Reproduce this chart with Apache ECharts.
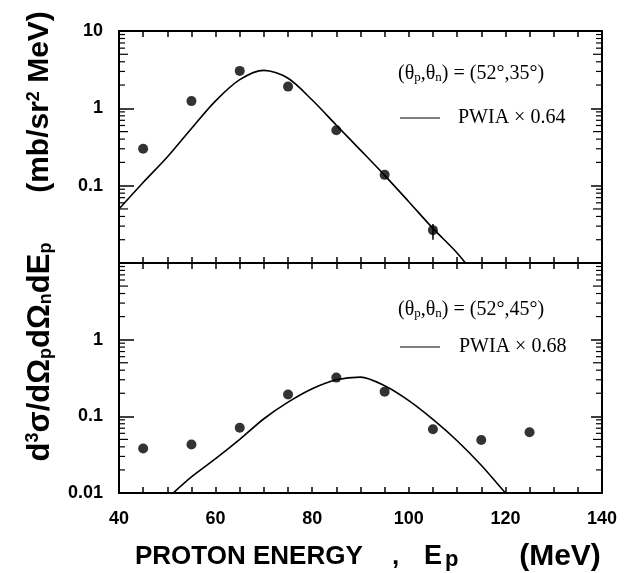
<!DOCTYPE html>
<html>
<head>
<meta charset="utf-8">
<script src="https://cdn.jsdelivr.net/npm/echarts@6/dist/echarts.min.js"></script>
<style>
  html, body { margin: 0; padding: 0; background: #fff; }
  #chart { width: 636px; height: 573px; }
</style>
</head>
<body>
<div id="chart"></div>
<script>
// measured points, upper panel (theta_n = 35 deg)
const topEnergy = [45, 55, 65, 75, 85, 95, 105];
const topValue = [0.30, 1.24, 3.05, 1.91, 0.52, 0.138, 0.0266];
const topErrors = [[105, 0.020, 0.032]];

// measured points, lower panel (theta_n = 45 deg)
const botEnergy = [45, 55, 65, 75, 85, 95, 105, 115, 125];
const botValue = [0.038, 0.043, 0.071, 0.193, 0.32, 0.21, 0.068, 0.049, 0.062];

// PWIA curves
const topCurveEnergy = [40, 45, 50, 55, 60, 65, 70, 75, 80, 85, 90, 95, 100, 105, 110, 115];
const topCurveValue = [0.05, 0.11, 0.235, 0.55, 1.25, 2.35, 3.1, 2.45, 1.28, 0.605, 0.288, 0.136, 0.062, 0.028, 0.0135, 0.0055];
const botCurveEnergy = [50, 55, 60, 65, 70, 75, 80, 85, 90, 95, 100, 105, 110, 115, 120, 125];
const botCurveValue = [0.0085, 0.0162, 0.028, 0.05, 0.093, 0.153, 0.229, 0.30, 0.325, 0.25, 0.16, 0.091, 0.048, 0.023, 0.010, 0.0045];

const xLabels = [40, 60, 80, 100, 120, 140];

const SANS = 'Liberation Sans, Arial, sans-serif';
const SERIF = 'Liberation Serif, Times New Roman, serif';

const chart = echarts.init(document.getElementById('chart'), null, { renderer: 'canvas' });

function zip(xs, ys) {
  return xs.map((x, i) => [x, ys[i]]);
}

function xAxisFor(gridIndex, position, showLabels) {
  return {
    type: 'value',
    gridIndex: gridIndex,
    position: position,
    min: 40,
    max: 140,
    interval: 5,
    axisLine: { show: true, onZero: false, lineStyle: { color: '#000', width: 2 } },
    axisTick: { show: true, inside: true, length: 6, lineStyle: { color: '#000', width: 1.5 } },
    splitLine: { show: false },
    axisLabel: {
      show: showLabels,
      margin: 17,
      color: '#000',
      fontFamily: SANS,
      fontWeight: 'bold',
      fontSize: 18,
      formatter: (v) => (xLabels.indexOf(v) >= 0 ? String(v) : '')
    }
  };
}

function yAxisFor(gridIndex, position, formatter) {
  return {
    type: 'log',
    logBase: 10,
    gridIndex: gridIndex,
    position: position,
    min: 0.01,
    max: 10,
    axisLine: { show: true, onZero: false, lineStyle: { color: '#000', width: 2 } },
    axisTick: { show: true, inside: true, length: position === 'left' ? 15 : 11, lineStyle: { color: '#000', width: 1.5 } },
    splitLine: { show: false },
    axisLabel: {
      show: !!formatter,
      margin: 16,
      color: '#000',
      fontFamily: SANS,
      fontWeight: 'bold',
      fontSize: 18,
      formatter: formatter || undefined
    }
  };
}

// log minor ticks on both vertical edges of a panel
function minorTicks(params, api) {
  const children = [];
  for (let d = -2; d <= 0; d++) {
    for (let m = 2; m <= 9; m++) {
      const v = m * Math.pow(10, d);
      const l = api.coord([40, v]);
      const r = api.coord([140, v]);
      const len = m === 5 ? 9 : 6;
      children.push({
        type: 'line',
        shape: { x1: l[0], y1: l[1], x2: l[0] + len, y2: l[1] },
        style: { stroke: '#000', lineWidth: 1.2 }
      });
      children.push({
        type: 'line',
        shape: { x1: r[0], y1: r[1], x2: r[0] - len, y2: r[1] },
        style: { stroke: '#000', lineWidth: 1.2 }
      });
    }
  }
  return { type: 'group', children: children };
}

function errorBar(params, api) {
  const lo = api.coord([api.value(0), api.value(1)]);
  const hi = api.coord([api.value(0), api.value(2)]);
  return {
    type: 'line',
    shape: { x1: lo[0], y1: lo[1], x2: hi[0], y2: hi[1] },
    style: { stroke: '#000', lineWidth: 1.5 }
  };
}

const legendRich = {
  s: { fontSize: 13, fontFamily: SERIF, verticalAlign: 'bottom', lineHeight: 12 }
};

const subBold = { fontSize: 18, fontWeight: 'bold', fontFamily: SANS, verticalAlign: 'bottom', lineHeight: 16 };
const supBold = { fontSize: 18, fontWeight: 'bold', fontFamily: SANS, verticalAlign: 'top', lineHeight: 16 };

const option = {
  animation: false,
  backgroundColor: '#fff',
  grid: [
    { left: 119, right: 34, top: 31, height: 232 },
    { left: 119, right: 34, top: 263, height: 230 }
  ],
  xAxis: [
    xAxisFor(0, 'bottom', false),
    xAxisFor(0, 'top', false),
    xAxisFor(1, 'bottom', true),
    xAxisFor(1, 'top', false)
  ],
  yAxis: [
    yAxisFor(0, 'left', (v) => (v < 0.011 ? '' : String(+v.toPrecision(3)))),
    yAxisFor(0, 'right', null),
    yAxisFor(1, 'left', (v) => (v > 9 ? '' : String(+v.toPrecision(3)))),
    yAxisFor(1, 'right', null)
  ],
  series: [
    {
      type: 'line',
      xAxisIndex: 0,
      yAxisIndex: 0,
      data: zip(topCurveEnergy, topCurveValue),
      smooth: 0.3,
      showSymbol: false,
      clip: true,
      lineStyle: { color: '#000', width: 1.6 }
    },
    {
      type: 'scatter',
      xAxisIndex: 0,
      yAxisIndex: 0,
      data: zip(topEnergy, topValue),
      symbol: 'circle',
      symbolSize: 10,
      itemStyle: { color: '#000' }
    },
    {
      type: 'custom',
      xAxisIndex: 0,
      yAxisIndex: 0,
      data: topErrors,
      renderItem: errorBar
    },
    {
      type: 'custom',
      xAxisIndex: 0,
      yAxisIndex: 0,
      data: [[40, 1]],
      renderItem: minorTicks,
      silent: true
    },
    {
      type: 'line',
      xAxisIndex: 2,
      yAxisIndex: 2,
      data: zip(botCurveEnergy, botCurveValue),
      smooth: 0.3,
      showSymbol: false,
      clip: true,
      lineStyle: { color: '#000', width: 1.6 }
    },
    {
      type: 'scatter',
      xAxisIndex: 2,
      yAxisIndex: 2,
      data: zip(botEnergy, botValue),
      symbol: 'circle',
      symbolSize: 10,
      itemStyle: { color: '#000' }
    },
    {
      type: 'custom',
      xAxisIndex: 2,
      yAxisIndex: 2,
      data: [[40, 1]],
      renderItem: minorTicks,
      silent: true
    }
  ],
  graphic: [
    // panel annotations
    {
      type: 'text',
      x: 398, y: 74,
      style: {
        text: '(θ{s|p},θ{s|n}) = (52°,35°)',
        font: '20px ' + SERIF,
        fill: '#000',
        verticalAlign: 'middle',
        rich: legendRich
      }
    },
    {
      type: 'line',
      shape: { x1: 400, y1: 118, x2: 440, y2: 118 },
      style: { stroke: '#000', lineWidth: 1.2 }
    },
    {
      type: 'text',
      x: 458, y: 118,
      style: { text: 'PWIA × 0.64', font: '20px ' + SERIF, fill: '#000', verticalAlign: 'middle' }
    },
    {
      type: 'text',
      x: 398, y: 310,
      style: {
        text: '(θ{s|p},θ{s|n}) = (52°,45°)',
        font: '20px ' + SERIF,
        fill: '#000',
        verticalAlign: 'middle',
        rich: legendRich
      }
    },
    {
      type: 'line',
      shape: { x1: 400, y1: 347, x2: 440, y2: 347 },
      style: { stroke: '#000', lineWidth: 1.2 }
    },
    {
      type: 'text',
      x: 459, y: 347,
      style: { text: 'PWIA × 0.68', font: '20px ' + SERIF, fill: '#000', verticalAlign: 'middle' }
    },
    // x axis title, pieces spaced as in the original
    {
      type: 'text',
      x: 135, y: 557,
      style: { text: 'PROTON ENERGY', font: 'bold 26px ' + SANS, fill: '#000', verticalAlign: 'middle' }
    },
    {
      type: 'text',
      x: 392, y: 557,
      style: { text: ',', font: 'bold 26px ' + SANS, fill: '#000', verticalAlign: 'middle' }
    },
    {
      type: 'text',
      x: 424, y: 557,
      style: {
        text: 'E{sub|p}',
        font: 'bold 27px ' + SANS,
        fill: '#000',
        verticalAlign: 'middle',
        rich: { sub: { fontSize: 22, fontWeight: 'bold', fontFamily: SANS, verticalAlign: 'bottom', lineHeight: 18, padding: [0, 0, 0, 3] } }
      }
    },
    {
      type: 'text',
      x: 560, y: 557,
      style: { text: '(MeV)', font: 'bold 30px ' + SANS, fill: '#000', align: 'center', verticalAlign: 'middle' }
    },
    // y axis title, two pieces
    {
      type: 'text',
      x: 40, y: 352,
      rotation: Math.PI / 2,
      style: {
        text: 'd{sup|3}σ/dΩ{sub|p}dΩ{sub|n}dE{sub|p}',
        font: 'bold 31px ' + SANS,
        fill: '#000',
        align: 'center',
        verticalAlign: 'middle',
        rich: { sub: subBold, sup: supBold }
      }
    },
    {
      type: 'text',
      x: 40, y: 102,
      rotation: Math.PI / 2,
      style: {
        text: '(mb/sr{sup|2} MeV)',
        font: 'bold 30px ' + SANS,
        fill: '#000',
        align: 'center',
        verticalAlign: 'middle',
        rich: { sup: supBold }
      }
    }
  ]
};

chart.setOption(option);
</script>
</body>
</html>
